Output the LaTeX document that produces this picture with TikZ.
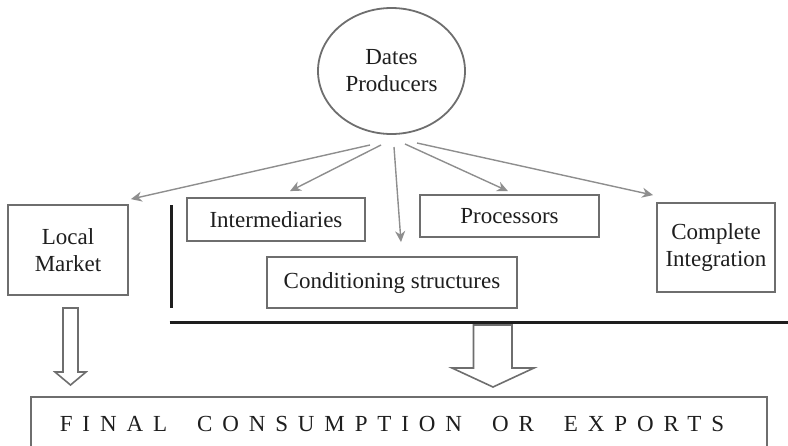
\documentclass[tikz,border=0pt]{standalone}
\usepackage{fontspec}
\setmainfont{Liberation Serif}
\usetikzlibrary{arrows.meta,shapes.geometric}
\definecolor{boxline}{HTML}{6E6E6E}
\definecolor{arrline}{HTML}{8E8E8E}
\definecolor{ink}{HTML}{1E1E1E}
\definecolor{barline}{HTML}{1E1E1E}
\newcommand{\wordgap}{\hspace{30pt}}
\tikzset{
  txt/.style={font=\fontsize{23}{27}\selectfont, text=ink, align=center},
  box/.style={txt, draw=boxline, line width=1.8pt, rectangle, inner sep=0pt},
  oval/.style={txt, draw=boxline, line width=1.8pt, ellipse, inner sep=0pt},
  link/.style={draw=arrline, line width=1.4pt, -{Stealth[length=11pt,width=10pt,inset=3.5pt]}},
  bigarrow/.style={draw=boxline, line width=1.6pt, fill=white, line join=miter},
  bar/.style={draw=barline, line width=3pt}
}
\begin{document}
\begin{tikzpicture}[x=1pt,y=-1pt]
\useasboundingbox (0,0) rectangle (788,445);

% central producer
\node[oval, minimum width=147pt, minimum height=126pt] (prod) at (391.5,71) {Dates\\Producers};

% channels
\node[box, minimum width=120pt, minimum height=90pt] (lm) at (68,250) {Local\\Market};
\node[box, minimum width=178pt, minimum height=43pt] (inter) at (276,219.5) {Intermediaries};
\node[box, minimum width=179pt, minimum height=42pt] (proc) at (509.5,216) {Processors};
\node[box, minimum width=250pt, minimum height=51pt] (cond) at (392,282.5) {Conditioning structures};
\node[box, minimum width=118pt, minimum height=89pt] (ci) at (716,247.5) {Complete\\Integration};

% final destination (bottom edge runs off the page); text sits a little left of centre
\node[box, minimum width=736pt, minimum height=53pt] (final) at (399,423.5)
  {\addfontfeature{LetterSpace=43}FINAL\wordgap CONSUMPTION\wordgap OR\wordgap EXPORTS\hspace{14pt}};

% arrow origins below the producer
\coordinate (s1) at (370,145);
\coordinate (s2) at (381,145);
\coordinate (s3) at (394,147);
\coordinate (s4) at (405,144);
\coordinate (s5) at (417,143);

\draw[link] (s1) -- ([xshift=2pt,yshift=5pt]lm.north east);
\draw[link] (s2) -- ([xshift=14pt,yshift=6pt]inter.north);
\draw[link] (s3) -- ([xshift=9pt,yshift=14pt]cond.north);
\draw[link] (s4) -- ([xshift=-1.5pt,yshift=3pt]proc.north);
\draw[link] (s5) -- ([xshift=-3pt,yshift=7pt]ci.north west);

% dividers around the intermediate channels
\coordinate (vtop) at (171,205);
\coordinate (vbot) at (171,308);
\coordinate (hl) at (169.5,322);
\coordinate (hr) at (790,322);
\draw[bar] (vtop) -- (vbot);
\draw[bar] (hl) -- (hr);

% block arrows down to the final destination
\draw[bigarrow] (63,308) -- (78,308) -- (78,372) -- (86,372) -- (70.5,385)
  -- (55,372) -- (63,372) -- cycle;
\draw[bigarrow] (473.5,325) -- (512,325) -- (512,368) -- (534,368) -- (493,387)
  -- (452,368) -- (473.5,368) -- cycle;
\end{tikzpicture}
\end{document}
